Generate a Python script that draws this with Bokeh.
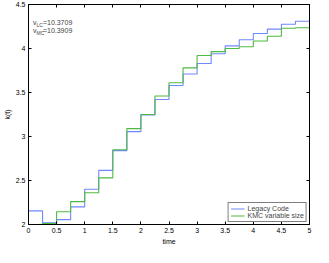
from bokeh.plotting import figure
from bokeh.models import (LinearAxis, FixedTicker, NumeralTickFormatter, Label, Range1d)
from bokeh.embed import file_html
from bokeh.resources import INLINE

# data
time = [0, 0.25, 0.5, 0.75, 1.0, 1.25, 1.5, 1.75, 2.0, 2.25, 2.5,
        2.75, 3.0, 3.25, 3.5, 3.75, 4.0, 4.25, 4.5, 4.75, 5.0]
legacy_code = [2.155, 2.02, 2.055, 2.20, 2.40, 2.615, 2.84, 3.055, 3.245, 3.42, 3.58,
               3.71, 3.83, 3.94, 4.03, 4.10, 4.17, 4.22, 4.275, 4.31, 4.31]
kmc_variable = [2.0, 2.01, 2.145, 2.26, 2.36, 2.53, 2.85, 3.09, 3.25, 3.46, 3.61,
                3.78, 3.92, 3.965, 4.0, 4.02, 4.085, 4.14, 4.23, 4.235, 4.235]
x_ticks = [0, 0.5, 1, 1.5, 2, 2.5, 3, 3.5, 4, 4.5, 5]
y_ticks = [2, 2.5, 3, 3.5, 4, 4.5]
v_lc = "10.3709"
v_mc = "10.3909"

FONT = "Liberation Sans"
BLUE = "#7088ff"
GREEN = "#4dbb3f"

p = figure(width=313, height=247, output_backend="svg", toolbar_location=None,
           x_range=Range1d(0, 5), y_range=Range1d(2, 4.5),
           min_border_left=0, min_border_right=4, min_border_top=4, min_border_bottom=0)
p.xgrid.visible = False
p.ygrid.visible = False
p.outline_line_color = "black"
p.outline_line_width = 1

for ax, ticks in ((p.xaxis[0], x_ticks), (p.yaxis[0], y_ticks)):
    ax.ticker = FixedTicker(ticks=ticks)
    ax.formatter = NumeralTickFormatter(format="0.[0]")
    ax.major_tick_in = 3
    ax.major_tick_out = 0
    ax.minor_tick_line_color = None
    ax.axis_line_color = "black"
    ax.major_tick_line_color = "black"
    ax.major_label_text_font = FONT
    ax.major_label_text_font_size = "7px"
    ax.major_label_text_color = "black"
    ax.axis_label_text_font = FONT
    ax.axis_label_text_font_size = "7px"
    ax.axis_label_text_font_style = "normal"
    ax.axis_label_text_color = "black"
    ax.major_label_standoff = 3
    ax.axis_label_standoff = 2

p.xaxis[0].axis_label = "time"
p.yaxis[0].axis_label = "k(t)"

for loc, ticks in (("above", x_ticks), ("right", y_ticks)):
    ax = LinearAxis(ticker=FixedTicker(ticks=ticks), major_tick_in=3, major_tick_out=0,
                    minor_tick_line_color=None, major_label_text_font_size="1px",
                    major_label_text_color=None,
                    major_label_standoff=0, axis_line_color="black",
                    major_tick_line_color="black")
    p.add_layout(ax, loc)

p.step(time, legacy_code, mode="after", line_color=BLUE, line_width=1.1,
       legend_label="Legacy Code")
p.step(time, kmc_variable, mode="after", line_color=GREEN, line_width=1.1,
       legend_label="KMC variable size")

leg = p.legend[0]
leg.location = "bottom_right"
leg.border_line_color = "black"
leg.border_line_width = 1
leg.label_text_font = FONT
leg.label_text_font_size = "7px"
leg.glyph_width = 14
leg.glyph_height = 7
leg.label_height = 7
leg.label_standoff = 3
leg.spacing = 0
leg.padding = 2
leg.margin = 2
leg.background_fill_alpha = 1

def vlabel(yv, sub, val):
    p.add_layout(Label(x=0.08, y=yv, text="v", text_font=FONT, text_font_size="7px",
                       text_baseline="middle"))
    p.add_layout(Label(x=0.08, y=yv, x_offset=3.5, y_offset=-2.5, text=sub, text_font=FONT,
                       text_font_size="5px", text_baseline="middle"))
    p.add_layout(Label(x=0.08, y=yv, x_offset=3.5 + 3.2 * len(sub), text="=" + val,
                       text_font=FONT, text_font_size="7px", text_baseline="middle"))

vlabel(4.30, "LC", v_lc)
vlabel(4.20, "MC", v_mc)

open("out.html", "w").write(file_html(p, INLINE))
